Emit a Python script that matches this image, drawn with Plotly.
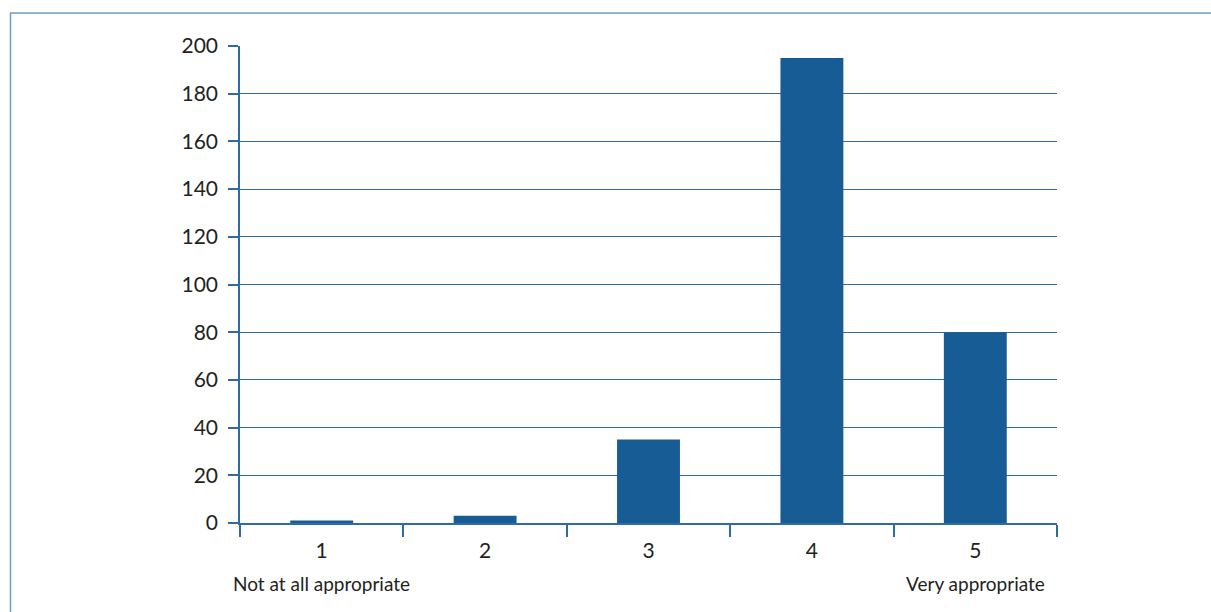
import plotly.graph_objects as go

# Ratings on a 1-5 scale and number of respondents per rating
categories = ["1", "2", "3", "4", "5"]
counts = [1, 3, 35, 195, 80]
y_ticks = [0, 20, 40, 60, 80, 100, 120, 140, 160, 180, 200]
scale_ends = {"1": "Not at all appropriate", "5": "Very appropriate"}

bar_color = "#175c94"
axis_color = "#2f6ca5"
frame_color = "#6b9bc6"
text_color = "#231f20"
font_family = "Lato, Liberation Sans, sans-serif"
font_size = 21

fig = go.Figure(
    go.Bar(
        x=categories,
        y=counts,
        marker=dict(color=bar_color, line=dict(width=0)),
        width=0.385,
    )
)

fig.update_layout(
    width=1211,
    height=612,
    margin=dict(l=240, r=154, t=46, b=89, autoexpand=False),
    paper_bgcolor="white",
    plot_bgcolor="white",
    showlegend=False,
    font=dict(family=font_family, size=font_size, color=text_color),
)

fig.update_xaxes(
    type="category",
    categoryorder="array",
    categoryarray=categories,
    range=[-0.5, len(categories) - 0.5],
    tickson="boundaries",
    ticks="outside",
    ticklen=12,
    tickwidth=1.5,
    tickcolor=axis_color,
    tickangle=0,
    ticklabelstandoff=8,
    automargin=False,
    showline=True,
    linecolor=axis_color,
    linewidth=1.5,
    showgrid=False,
    tickfont=dict(family=font_family, size=font_size, color=text_color),
)

fig.update_yaxes(
    range=[0, 200],
    tickvals=y_ticks,
    ticks="outside",
    ticklen=10,
    tickwidth=1.5,
    tickcolor=axis_color,
    automargin=False,
    showline=True,
    linecolor=axis_color,
    linewidth=1.5,
    showgrid=True,
    gridcolor=axis_color,
    gridwidth=1.3,
    zeroline=False,
    ticklabelstandoff=6,
    tickfont=dict(family=font_family, size=font_size, color=text_color),
)

# Descriptions of the two ends of the scale, under their ratings
for cat, text in scale_ends.items():
    fig.add_annotation(
        x=categories.index(cat), xref="x", y=0, yref="paper",
        text=text, showarrow=False,
        yanchor="middle", yshift=-60,
        font=dict(family=font_family, size=19, color=text_color),
    )

# Thin frame along the top and left of the figure
plot_w, plot_h = 817, 477.5
fig.add_shape(type="line", xref="paper", yref="paper",
              x0=-230 / plot_w, x1=(1211 - 240) / plot_w,
              y0=1 + 33 / plot_h, y1=1 + 33 / plot_h,
              line=dict(color=frame_color, width=1.5))
fig.add_shape(type="line", xref="paper", yref="paper",
              x0=-229.5 / plot_w, x1=-229.5 / plot_w,
              y0=1 + 33 / plot_h, y1=-95 / plot_h,
              line=dict(color=frame_color, width=1.5))

fig.write_html("out.html")
